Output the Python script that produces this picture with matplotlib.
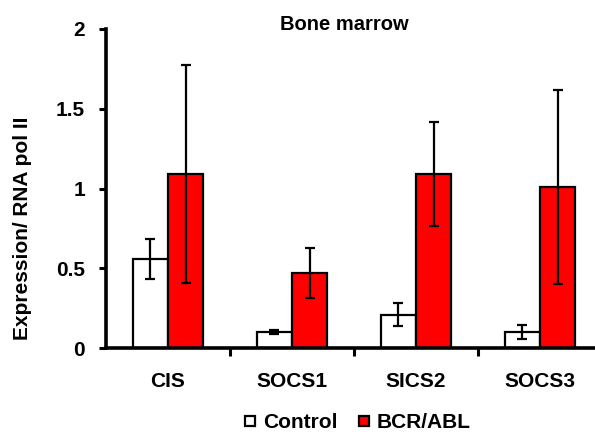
import matplotlib
matplotlib.use("Agg")
import matplotlib.pyplot as plt
from matplotlib.lines import Line2D
import numpy as np

categories = ["CIS", "SOCS1", "SICS2", "SOCS3"]
control_vals = [0.56, 0.10, 0.21, 0.10]
control_err = [0.125, 0.01, 0.07, 0.045]
bcr_vals = [1.09, 0.47, 1.09, 1.01]
bcr_err = [0.685, 0.155, 0.325, 0.61]
series_names = ["Control", "BCR/ABL"]
yticks = [0, 0.5, 1, 1.5, 2]
yticklabels = ["0", "0.5", "1", "1.5", "2"]

plt.rcParams['font.family'] = ['Liberation Sans', 'DejaVu Sans']
plt.rcParams['font.weight'] = 'bold'

fig = plt.figure(figsize=(5.95, 4.32), dpi=100)
ax = fig.add_axes([106/595, (432-348)/432, 496/595, (348-29)/432])

x = np.arange(len(categories))
w = 0.286
ekw = dict(elinewidth=1.6, capthick=1.6, ecolor='black')
ax.bar(x - w/2, control_vals, w, color='white', edgecolor='black', linewidth=1.6,
       yerr=control_err, capsize=3.5, error_kw=ekw, zorder=2)
ax.bar(x + w/2, bcr_vals, w, color='#FF0000', edgecolor='black', linewidth=1.6,
       yerr=bcr_err, capsize=3.5, error_kw=ekw, zorder=2)

ax.set_xlim(-0.5, len(categories) - 0.5)
ax.set_ylim(0, 2)
ax.set_yticks(yticks)
ax.set_yticklabels(yticklabels, fontsize=15, fontweight='bold')
ax.set_xticks(x)
ax.set_xticklabels(categories, fontsize=15, fontweight='bold')
ax.set_xticks(np.arange(0.5, len(categories) - 0.5, 1), minor=True)
ax.tick_params(axis='x', which='major', length=0, pad=17)
ax.tick_params(axis='x', which='minor', length=6, width=2.2, direction='out')
ax.tick_params(axis='y', which='major', length=5, width=2.2, direction='out', pad=10)

for s in ['top', 'right']:
    ax.spines[s].set_visible(False)
for s in ['left', 'bottom']:
    ax.spines[s].set_linewidth(2.6)

fig.text(22.5/595, 1 - 228.5/432, "Expression/ RNA pol II", rotation=90,
         ha='center', va='center', fontsize=15, fontweight='bold')
fig.text(344.5/595, 1 - 25/432, "Bone marrow", ha='center', va='center',
         fontsize=14.5, fontweight='bold')

handles = [Line2D([], [], linestyle='none', marker='s', markersize=7.5,
                  markerfacecolor='white', markeredgecolor='black', markeredgewidth=1.6),
           Line2D([], [], linestyle='none', marker='s', markersize=7.5,
                  markerfacecolor='#FF0000', markeredgecolor='black', markeredgewidth=1.6)]
leg = fig.legend(handles, series_names, loc='center', ncol=2, frameon=False,
                 bbox_to_anchor=(357.5/595, 1 - 423/432), handlelength=0.6,
                 handletextpad=0.3, columnspacing=1.0,
                 prop={'size': 15, 'weight': 'bold'})

fig.savefig("out.png", dpi=100)
